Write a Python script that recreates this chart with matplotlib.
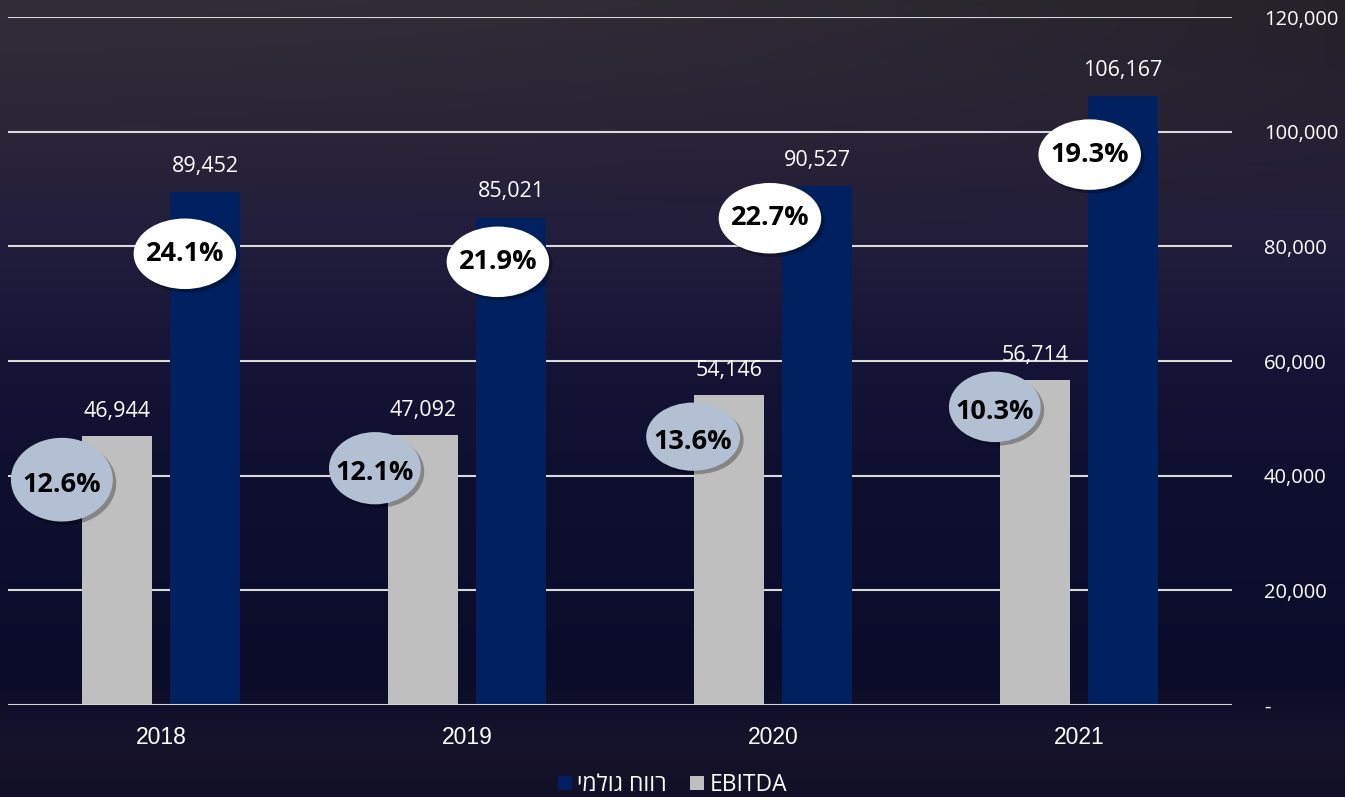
import matplotlib
matplotlib.use("Agg")
import matplotlib.pyplot as plt
import matplotlib.patheffects as pe
from matplotlib.patches import Ellipse
from matplotlib.ticker import FuncFormatter
import numpy as np

# data
years = ["2018", "2019", "2020", "2021"]
ebitda = [46944, 47092, 54146, 56714]
gross_profit = [89452, 85021, 90527, 106167]
ebitda_margin = ["12.6%", "12.1%", "13.6%", "10.3%"]
gross_margin = ["24.1%", "21.9%", "22.7%", "19.3%"]
label_ebitda = "EBITDA"
label_gross = "רווח גולמי"[::-1]  # reversed so it reads right-to-left

# layout of the margin bubbles (x in category units, y in value units)
gross_bubble_pos = [(0.078, 78700), (1.101, 77300), (1.990, 84900), (3.035, 96000)]
ebitda_bubble_pos = [(-0.324, 39300), (0.699, 41300), (1.739, 46800), (2.725, 52000)]
ebitda_bubble_size = [(0.333, 14600), (0.30, 12600), (0.307, 11900), (0.30, 12300)]

fonts = ["Open Sans", "DejaVu Sans"]
plt.rcParams["font.family"] = fonts

fig = plt.figure(figsize=(13.45, 7.97), dpi=100)

# background gradient
bg = fig.add_axes([0, 0, 1, 1], zorder=-10)
stops_y = [0.0, 0.15, 0.3, 0.45, 0.6, 0.85, 0.93, 1.0]
stops_c = np.array([[50, 45, 54], [43, 38, 55], [34, 29, 60], [22, 20, 54],
                    [15, 15, 48], [11, 12, 42], [22, 19, 44], [18, 16, 38]]) / 255
yy = np.linspace(0, 1, 400)
grad = np.stack([np.interp(yy, stops_y, stops_c[:, k]) for k in range(3)], axis=-1)
img = np.repeat(grad[:, None, :], 200, axis=1)
# slightly darker towards the right at the top
xx = np.linspace(0, 1, 200)
shade = 1 - 0.25 * np.outer(np.clip(1 - yy / 0.3, 0, 1), xx ** 2)
img = img * shade[:, :, None]
bg.imshow(img, aspect="auto", extent=[0, 1, 1, 0])
bg.set_xlim(0, 1)
bg.set_ylim(1, 0)
bg.axis("off")

ax = fig.add_axes([8 / 1345, 92 / 797, 1224 / 1345, 688 / 797])
ax.set_facecolor("none")

x = np.arange(len(years))
w = 0.229
off = 0.144
grid_c = "#d9d9d9"

ax.set_xlim(-0.5, 3.5)
ax.set_ylim(0, 120000)
ax.set_yticks(np.arange(0, 120001, 20000))
for t in np.arange(20000, 120001, 20000):
    ax.axhline(t, color=grid_c, lw=1.5, zorder=0)
ax.axhline(0, color=grid_c, lw=1.5, zorder=3)

b1 = ax.bar(x - off, ebitda, w, color="#bfbfbf", zorder=2, label=label_ebitda)
b2 = ax.bar(x + off, gross_profit, w, color="#002060", zorder=2, label=label_gross)

for xi, v in zip(x - off, ebitda):
    ax.annotate(f"{v:,}", (xi, v), xytext=(0, 10), textcoords="offset points",
                ha="center", va="bottom", color="white", fontsize=15.5)
for xi, v in zip(x + off, gross_profit):
    ax.annotate(f"{v:,}", (xi, v), xytext=(0, 11), textcoords="offset points",
                ha="center", va="bottom", color="white", fontsize=15.5)

shadow = [pe.SimplePatchShadow(offset=(2.5, -2.5), shadow_rgbFace="black", alpha=0.3),
          pe.Normal()]
for (bx, by), txt in zip(gross_bubble_pos, gross_margin):
    e = Ellipse((bx, by), 0.335, 12300, facecolor="white", edgecolor="none", zorder=5)
    e.set_path_effects(shadow)
    ax.add_patch(e)
    ax.text(bx, by, txt, ha="center", va="center", fontsize=19.5, fontweight="bold",
            color="black", zorder=6)
for (bx, by), (ew, eh), txt in zip(ebitda_bubble_pos, ebitda_bubble_size, ebitda_margin):
    e = Ellipse((bx, by), ew, eh, facecolor="#b3bfd3", edgecolor="none", zorder=5)
    e.set_path_effects(shadow)
    ax.add_patch(e)
    ax.text(bx, by - 900, txt, ha="center", va="center", fontsize=19.5, fontweight="bold",
            color="black", zorder=6)

ax.yaxis.tick_right()
ax.yaxis.set_major_formatter(FuncFormatter(lambda v, p: "-" if v == 0 else f"{int(v):,}"))
ax.tick_params(axis="y", length=0, pad=23, labelsize=14.5, labelcolor="white")
ax.set_xticks(x)
ax.set_xticklabels(years, fontfamily=["Liberation Sans", "DejaVu Sans"])
ax.tick_params(axis="x", length=0, pad=15, labelsize=16.5, labelcolor="white")
for s in ax.spines.values():
    s.set_visible(False)

leg = fig.legend(handles=[b2, b1], labels=[label_gross, label_ebitda], loc="center",
                 bbox_to_anchor=(0.5, 12 / 797), ncol=2, frameon=False, fontsize=16.5,
                 labelcolor="white", handlelength=0.6, handleheight=0.6,
                 handletextpad=0.25, columnspacing=1.0)

fig.savefig("out.png", dpi=100)
